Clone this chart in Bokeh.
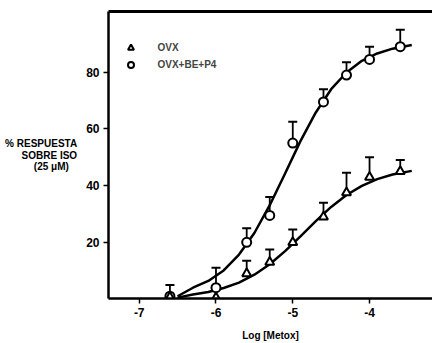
from bokeh.plotting import figure
from bokeh.models import Range1d, FixedTicker, Legend, LegendItem, LinearAxis
from bokeh.embed import file_html
from bokeh.resources import INLINE

# ---- data ----
log_conc = [-6.6, -6.0, -5.6, -5.3, -5.0, -4.6, -4.3, -4.0, -3.6]
ovx_mean = [0.7, 0.5, 9.0, 13.0, 20.0, 29.0, 37.5, 43.0, 45.0]
ovx_err = [4.3, 0.0, 4.5, 4.5, 4.5, 5.0, 7.0, 7.0, 4.0]
bep_mean = [1.0, 4.0, 20.0, 29.5, 55.0, 69.5, 79.0, 84.5, 89.0]
bep_err = [0.0, 7.0, 5.0, 6.5, 7.5, 4.5, 4.5, 4.5, 6.0]

# fitted curves
curve_x = [-6.5, -6.3, -6.1, -5.9, -5.7, -5.5, -5.3, -5.1, -4.9, -4.7, -4.5, -4.3, -4.1, -3.9, -3.7, -3.45]
curve_ovx = [0.5, 1.6, 2.5, 3.9, 5.8, 8.6, 12.3, 16.9, 22.1, 27.5, 32.5, 36.7, 39.9, 42.3, 43.9, 45.2]
curve_bep = [1.0, 4.0, 6.4, 10.1, 15.7, 23.3, 33.1, 44.3, 55.7, 65.8, 74.0, 79.9, 84.0, 86.6, 88.3, 89.6]

x_ticks = [-7, -6, -5, -4]
x_tick_labels = ["-7", "-6", "-5", "-4"]
y_ticks = [20, 40, 60, 80]
y_title_lines = ["% RESPUESTA", "SOBRE ISO", "(25 \u03bcM)\u00a0\u00a0\u00a0"]
x_title = "Log [Metox]"

FONT = "Liberation Sans"

p = figure(width=432, height=343, output_backend="svg", toolbar_location=None,
           x_range=Range1d(-7.40, -3.18), y_range=Range1d(0.2, 101.4),
           min_border_left=108, min_border_right=0, min_border_top=11, min_border_bottom=45)
p.outline_line_color = None
p.grid.visible = False
p.background_fill_color = "white"

for ax in (p.xaxis[0], p.yaxis[0]):
    ax.axis_line_width = 2.5
    ax.axis_line_color = "black"
    ax.major_tick_line_width = 1.5
    ax.major_tick_out = 5
    ax.major_tick_in = 0
    ax.minor_tick_out = 0
    ax.minor_tick_in = 0
    ax.major_label_text_font = FONT
    ax.major_label_text_font_size = "12px"
    ax.major_label_text_font_style = "bold"
    ax.major_label_text_color = "black"
    ax.axis_label_text_font = FONT
    ax.axis_label_text_font_size = "10px"
    ax.axis_label_text_font_style = "bold"
    ax.axis_label_text_color = "black"

p.xaxis[0].ticker = FixedTicker(ticks=x_ticks)
p.xaxis[0].major_label_overrides = {t: s for t, s in zip(x_ticks, x_tick_labels)}
p.yaxis[0].ticker = FixedTicker(ticks=y_ticks)
p.xaxis[0].major_label_standoff = 4
p.yaxis[0].major_label_standoff = 4
p.xaxis[0].axis_label = x_title
p.xaxis[0].axis_label_standoff = 10
p.yaxis[0].axis_label = "\n".join(y_title_lines)
p.yaxis[0].axis_label_orientation = "horizontal"
p.yaxis[0].axis_label_standoff = 6
p.yaxis[0].axis_label_text_line_height = 1.05

# top frame line
top = LinearAxis(ticker=FixedTicker(ticks=x_ticks), axis_line_width=3, axis_line_color="black",
                 major_tick_out=0, major_tick_in=0, minor_tick_out=0, minor_tick_in=0,
                 major_label_text_alpha=0, major_label_text_font_size="1px",
                 major_label_standoff=0)
p.add_layout(top, "above")

# error bars (upward only)
def bars(xs, ms, es):
    bx = [x for x, e in zip(xs, es) if e > 0]
    b0 = [m for m, e in zip(ms, es) if e > 0]
    b1 = [m + e for m, e in zip(ms, es) if e > 0]
    return bx, b0, b1

for m, e in ((ovx_mean, ovx_err), (bep_mean, bep_err)):
    bx, b0, b1 = bars(log_conc, m, e)
    p.segment(x0=bx, y0=b0, x1=bx, y1=b1, line_color="black", line_width=1.8)
    p.scatter(x=bx, y=b1, marker="dash", size=9, line_color="black", line_width=2)

# curves
p.line(curve_x, curve_ovx, line_color="black", line_width=2.5)
p.line(curve_x, curve_bep, line_color="black", line_width=2.5)

# markers
circ = p.scatter(log_conc, bep_mean, marker="circle", size=9, line_color="black",
                 line_width=2, fill_color="white")
tri = p.scatter(log_conc, ovx_mean, marker="triangle", size=9, line_color="black",
                line_width=2, fill_color="white")

legend = Legend(items=[LegendItem(label="OVX", renderers=[tri]),
                       LegendItem(label="OVX+BE+P4", renderers=[circ])],
                location=(14.5, 226.5), border_line_color=None, background_fill_alpha=0,
                padding=0, margin=0, spacing=2, glyph_height=15, glyph_width=15,
                label_height=15, label_standoff=20, label_text_font=FONT,
                label_text_font_size="10px", label_text_font_style="bold")
p.add_layout(legend)

open("out.html", "w").write(file_html(p, INLINE))
